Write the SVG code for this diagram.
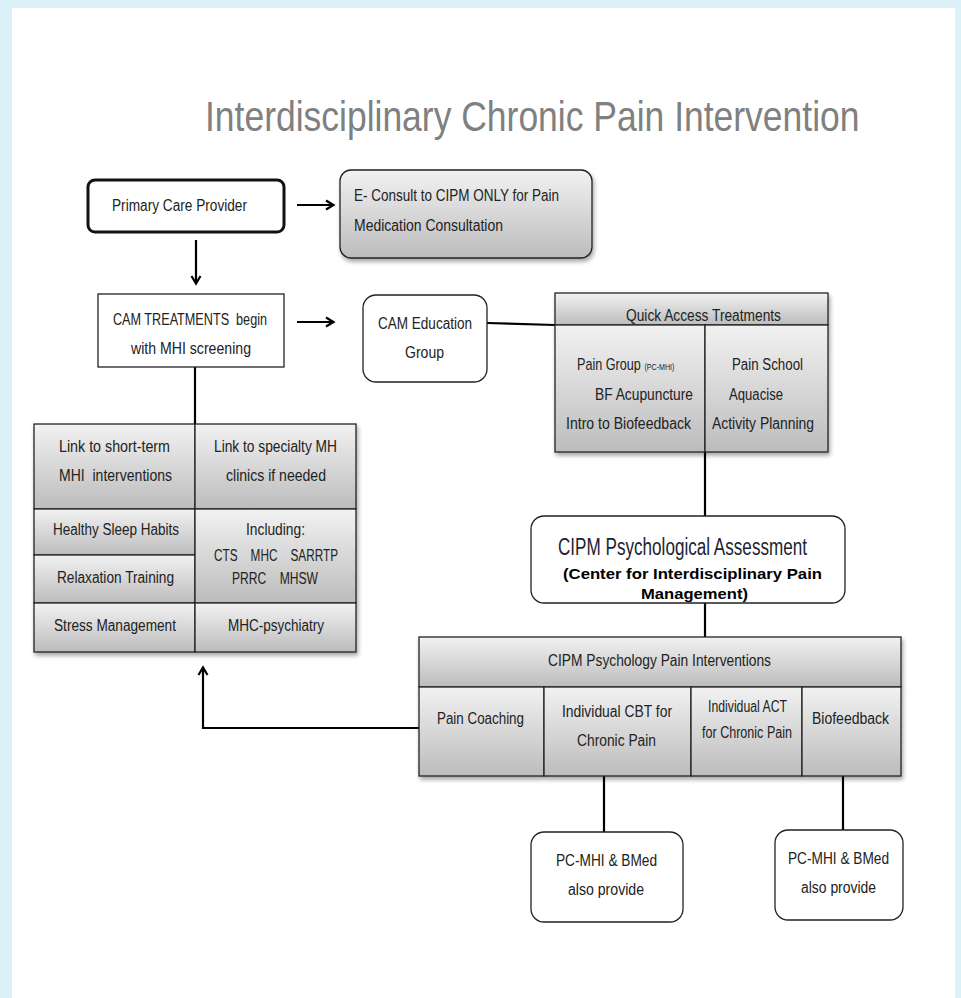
<svg xmlns="http://www.w3.org/2000/svg" width="961" height="998" viewBox="0 0 961 998">
<style>
.t{font-family:"Liberation Sans",Arial,sans-serif;font-size:16px;fill:#222}
.pre{white-space:pre}
.b{fill:#fff;stroke:#222;stroke-width:1.3}
.g{fill:url(#gr);stroke:#222;stroke-width:1.3}
.c{fill:none;stroke:#000;stroke-width:2.2}
</style>
<defs>
<linearGradient id="gr" x1="0" y1="0" x2="0" y2="1">
<stop offset="0" stop-color="#f2f2f2"/>
<stop offset="1" stop-color="#bcbcbc"/>
</linearGradient>
<filter id="sh" x="-5%" y="-5%" width="115%" height="125%">
<feDropShadow dx="1.5" dy="3" stdDeviation="2" flood-color="#000" flood-opacity="0.35"/>
</filter>
<marker id="ar" markerWidth="12" markerHeight="12" refX="9" refY="6" orient="auto" markerUnits="userSpaceOnUse">
<path d="M2,1.5 L9.5,6 L2,10.5" fill="none" stroke="#000" stroke-width="2.2"/>
</marker>
</defs>
<rect x="0" y="0" width="961" height="998" fill="#dbf2f8"/>
<rect x="12" y="8" width="943" height="990" fill="#fff"/>
<text class="t" style="font-size:43px;fill:#808080" transform="translate(205,131) scale(0.825,1)">Interdisciplinary Chronic Pain Intervention</text>

<g id="connectors">
<line x1="297" y1="205" x2="333" y2="205" class="c" marker-end="url(#ar)"/>
<line x1="196" y1="240" x2="196" y2="283" class="c" marker-end="url(#ar)"/>
<line x1="297" y1="322" x2="333" y2="322" class="c" marker-end="url(#ar)"/>
<line x1="487" y1="323" x2="555" y2="325" class="c"/>
<line x1="195" y1="367" x2="195" y2="425" class="c"/>
<line x1="705" y1="452" x2="705" y2="516" class="c"/>
<line x1="705" y1="603" x2="705" y2="637" class="c"/>
<polyline points="419,728 203,728 203,668" class="c" marker-end="url(#ar)"/>
<line x1="604" y1="776" x2="604" y2="832" class="c"/>
<line x1="843" y1="776" x2="843" y2="830" class="c"/>
</g>

<g id="pcp">
<rect x="88" y="180" width="196" height="52" rx="7" fill="#fff" stroke="#111" stroke-width="3"/>
<text x="112" y="211" class="t" textLength="135" lengthAdjust="spacingAndGlyphs">Primary Care Provider</text>
</g>

<g id="econsult">
<rect x="340" y="170" width="252" height="88" rx="11" class="g" filter="url(#sh)"/>
<text x="354" y="201" class="t" textLength="205" lengthAdjust="spacingAndGlyphs">E- Consult to CIPM ONLY for Pain</text>
<text x="354" y="231" class="t" textLength="149" lengthAdjust="spacingAndGlyphs">Medication Consultation</text>
</g>

<g id="cam">
<rect x="98" y="294" width="186" height="73" class="b"/>
<text x="113" y="325" class="t pre" textLength="154" lengthAdjust="spacingAndGlyphs">CAM TREATMENTS  begin</text>
<text x="131" y="354" class="t" textLength="120" lengthAdjust="spacingAndGlyphs">with MHI screening</text>
</g>

<g id="camedu">
<rect x="363" y="295" width="124" height="87" rx="13" class="b"/>
<text x="378" y="329" class="t" textLength="94" lengthAdjust="spacingAndGlyphs">CAM Education</text>
<text x="405" y="358" class="t" textLength="39" lengthAdjust="spacingAndGlyphs">Group</text>
</g>

<g id="quick" filter="url(#sh)">
<rect x="555" y="293" width="273" height="32" class="g"/>
<rect x="555" y="325" width="150" height="127" class="g"/>
<rect x="705" y="325" width="123" height="127" class="g"/>
</g>
<g id="quick-text">
<text x="626" y="321" class="t" textLength="155" lengthAdjust="spacingAndGlyphs">Quick Access Treatments</text>
<text class="t" transform="translate(577,370) scale(0.79,1)">Pain Group <tspan style="font-size:9px">(PC-MHI)</tspan></text>
<text x="595" y="400" class="t" textLength="98" lengthAdjust="spacingAndGlyphs">BF Acupuncture</text>
<text x="566" y="429" class="t" textLength="125" lengthAdjust="spacingAndGlyphs">Intro to Biofeedback</text>
<text x="732" y="370" class="t" textLength="71" lengthAdjust="spacingAndGlyphs">Pain School</text>
<text x="729" y="400" class="t" textLength="54" lengthAdjust="spacingAndGlyphs">Aquacise</text>
<text x="712" y="429" class="t" textLength="102" lengthAdjust="spacingAndGlyphs">Activity Planning</text>
</g>

<g id="mhtable" filter="url(#sh)">
<rect x="34" y="424" width="161" height="85" class="g"/>
<rect x="195" y="424" width="161" height="85" class="g"/>
<rect x="34" y="509" width="161" height="46" class="g"/>
<rect x="34" y="555" width="161" height="48" class="g"/>
<rect x="195" y="509" width="161" height="94" class="g"/>
<rect x="34" y="603" width="161" height="49" class="g"/>
<rect x="195" y="603" width="161" height="49" class="g"/>
</g>
<g id="mhtable-text">
<text x="59" y="452" class="t" textLength="111" lengthAdjust="spacingAndGlyphs">Link to short-term</text>
<text x="59" y="481" class="t pre" textLength="113" lengthAdjust="spacingAndGlyphs">MHI  interventions</text>
<text x="214" y="452" class="t" textLength="123" lengthAdjust="spacingAndGlyphs">Link to specialty MH</text>
<text x="226" y="481" class="t" textLength="100" lengthAdjust="spacingAndGlyphs">clinics if needed</text>
<text x="53" y="535" class="t" textLength="126" lengthAdjust="spacingAndGlyphs">Healthy Sleep Habits</text>
<text x="57" y="583" class="t" textLength="117" lengthAdjust="spacingAndGlyphs">Relaxation Training</text>
<text x="54" y="631" class="t" textLength="122" lengthAdjust="spacingAndGlyphs">Stress Management</text>
<text x="246" y="535" class="t" textLength="59" lengthAdjust="spacingAndGlyphs">Including:</text>
<text x="214" y="561" class="t pre" textLength="124" lengthAdjust="spacingAndGlyphs">CTS    MHC    SARRTP</text>
<text x="232" y="584" class="t pre" textLength="86" lengthAdjust="spacingAndGlyphs">PRRC    MHSW</text>
<text x="228" y="631" class="t" textLength="96" lengthAdjust="spacingAndGlyphs">MHC-psychiatry</text>
</g>

<g id="assessment">
<rect x="531" y="516" width="314" height="87" rx="13" class="b"/>
<text x="558" y="555" class="t" style="font-size:23px;fill:#1c2333" textLength="249" lengthAdjust="spacingAndGlyphs">CIPM Psychological Assessment</text>
<text x="563" y="579" class="t" style="font-size:15px;font-weight:bold;fill:#000" textLength="259" lengthAdjust="spacingAndGlyphs">(Center for Interdisciplinary Pain</text>
<text x="641" y="599" class="t" style="font-size:15px;font-weight:bold;fill:#000" textLength="107" lengthAdjust="spacingAndGlyphs">Management)</text>
</g>

<g id="interventions" filter="url(#sh)">
<rect x="419" y="637" width="482" height="50" class="g"/>
<rect x="419" y="687" width="125" height="89" class="g"/>
<rect x="544" y="687" width="147" height="89" class="g"/>
<rect x="691" y="687" width="111" height="89" class="g"/>
<rect x="802" y="687" width="99" height="89" class="g"/>
</g>
<g id="interventions-text">
<text x="548" y="666" class="t" textLength="223" lengthAdjust="spacingAndGlyphs">CIPM Psychology Pain Interventions</text>
<text x="437" y="724" class="t" textLength="87" lengthAdjust="spacingAndGlyphs">Pain Coaching</text>
<text x="562" y="717" class="t" textLength="110" lengthAdjust="spacingAndGlyphs">Individual CBT for</text>
<text x="577" y="746" class="t" textLength="79" lengthAdjust="spacingAndGlyphs">Chronic Pain</text>
<text x="708" y="712" class="t" textLength="79" lengthAdjust="spacingAndGlyphs">Individual ACT</text>
<text x="702" y="738" class="t" textLength="90" lengthAdjust="spacingAndGlyphs">for Chronic Pain</text>
<text x="812" y="724" class="t" textLength="77" lengthAdjust="spacingAndGlyphs">Biofeedback</text>
</g>

<g id="pcmhi1">
<rect x="531" y="832" width="152" height="90" rx="13" class="b"/>
<text x="556" y="866" class="t" textLength="101" lengthAdjust="spacingAndGlyphs">PC-MHI &amp; BMed</text>
<text x="568" y="895" class="t" textLength="76" lengthAdjust="spacingAndGlyphs">also provide</text>
</g>

<g id="pcmhi2">
<rect x="775" y="830" width="128" height="90" rx="13" class="b"/>
<text x="788" y="864" class="t" textLength="101" lengthAdjust="spacingAndGlyphs">PC-MHI &amp; BMed</text>
<text x="801" y="893" class="t" textLength="75" lengthAdjust="spacingAndGlyphs">also provide</text>
</g>
</svg>
